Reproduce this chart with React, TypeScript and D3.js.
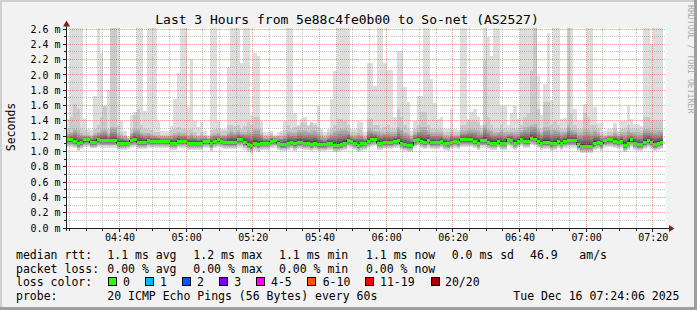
import React from 'react';
import * as d3 from 'd3';

// ---- time domain (UTC used as wall clock) ----
const startTime = Date.UTC(2025, 11, 16, 4, 24, 6);
const endTime = Date.UTC(2025, 11, 16, 7, 24, 6);
const stepMs = 60 * 1000;

// ---- per-minute data (ms) ----
const medianRtt = [
  1.15, 1.15, 1.13, 1.10, 1.12, 1.15, 1.15, 1.12, 1.12, 1.15,
  1.14, 1.14, 1.14, 1.14, 1.14, 1.11, 1.11, 1.11, 1.11, 1.14,
  1.15, 1.12, 1.12, 1.12, 1.14, 1.13, 1.13, 1.13, 1.13, 1.13,
  1.13, 1.11, 1.11, 1.13, 1.13, 1.13, 1.11, 1.11, 1.11, 1.11,
  1.11, 1.13, 1.13, 1.10, 1.13, 1.15, 1.13, 1.12, 1.12, 1.12,
  1.12, 1.15, 1.15, 1.12, 1.09, 1.08, 1.11, 1.09, 1.11, 1.11,
  1.11, 1.13, 1.14, 1.11, 1.09, 1.09, 1.11, 1.12, 1.10, 1.12,
  1.12, 1.11, 1.11, 1.09, 1.11, 1.09, 1.09, 1.09, 1.11, 1.11,
  1.08, 1.08, 1.09, 1.11, 1.14, 1.13, 1.11, 1.08, 1.10, 1.11,
  1.13, 1.15, 1.16, 1.11, 1.11, 1.12, 1.12, 1.12, 1.13, 1.14,
  1.11, 1.09, 1.08, 1.08, 1.14, 1.16, 1.13, 1.12, 1.14, 1.12,
  1.12, 1.12, 1.13, 1.11, 1.10, 1.12, 1.13, 1.12, 1.15, 1.15,
  1.15, 1.15, 1.13, 1.11, 1.14, 1.14, 1.12, 1.11, 1.11, 1.13,
  1.11, 1.11, 1.16, 1.14, 1.11, 1.13, 1.16, 1.13, 1.13, 1.17,
  1.16, 1.13, 1.11, 1.12, 1.12, 1.10, 1.11, 1.13, 1.11, 1.13,
  1.14, 1.14, 1.14, 1.09, 1.07, 1.07, 1.07, 1.07, 1.11, 1.12,
  1.10, 1.14, 1.15, 1.15, 1.13, 1.12, 1.13, 1.08, 1.11, 1.15,
  1.11, 1.09, 1.09, 1.12, 1.14, 1.12, 1.09, 1.11, 1.12,
];

const pingMax = [
  1.42, 2.7, 2.7, 2.7, 2.7, 1.42, 1.30, 1.28, 1.73, 2.7,
  2.28, 1.60, 1.80, 2.7, 2.7, 2.7, 1.40, 1.27, 1.20, 1.47,
  1.51, 2.7, 2.7, 1.53, 2.7, 2.7, 2.7, 1.40, 1.27, 1.27,
  1.27, 1.33, 1.69, 2.03, 2.7, 2.7, 1.58, 2.21, 1.40, 1.32,
  1.38, 1.27, 1.21, 2.7, 2.7, 1.40, 1.30, 1.30, 2.11, 2.7,
  2.7, 2.7, 2.15, 2.7, 2.7, 1.47, 2.28, 2.25, 1.40, 1.25,
  1.25, 1.27, 1.22, 1.25, 1.27, 1.40, 2.7, 2.7, 1.50, 1.35,
  1.42, 1.45, 1.35, 1.38, 1.37, 1.60, 1.30, 1.25, 1.30, 1.68,
  2.05, 2.7, 2.7, 2.7, 2.7, 1.30, 1.30, 1.40, 1.38, 1.25,
  2.15, 2.15, 1.85, 2.7, 2.7, 2.15, 2.06, 2.06, 1.45, 2.31,
  2.31, 1.84, 1.65, 1.27, 1.40, 1.72, 1.72, 2.7, 2.7, 1.95,
  1.63, 1.42, 1.45, 1.30, 1.30, 1.55, 1.30, 1.28, 2.7, 2.7,
  1.42, 1.52, 1.55, 1.45, 1.35, 2.7, 2.49, 2.25, 2.7, 2.7,
  1.60, 1.60, 1.35, 1.50, 1.60, 1.42, 2.7, 2.7, 2.7, 2.7,
  2.7, 1.99, 1.47, 1.88, 2.55, 1.67, 2.7, 2.7, 1.42, 1.44,
  2.7, 2.7, 1.55, 1.40, 1.40, 1.62, 2.7, 2.7, 1.58, 1.37,
  1.37, 1.27, 1.30, 1.30, 1.37, 1.27, 1.40, 1.40, 1.60, 1.42,
  1.36, 1.36, 1.33, 2.7, 2.7, 2.40, 2.7, 2.7, 2.7,
];

const ping19 = [
  1.30, 1.45, 1.62, 1.55, 1.30, 1.28, 1.25, 1.22, 1.30, 1.35,
  1.45, 1.60, 1.30, 2.7, 2.7, 1.35, 1.25, 1.22, 1.18, 1.30,
  1.48, 1.55, 1.35, 1.30, 1.30, 1.28, 1.25, 1.25, 1.22, 1.22,
  1.22, 1.28, 1.30, 1.32, 1.30, 1.30, 1.28, 1.30, 1.25, 1.22,
  1.25, 1.22, 1.20, 1.28, 1.30, 1.30, 1.27, 1.27, 1.35, 1.35,
  1.33, 1.35, 1.30, 1.33, 1.38, 1.35, 1.45, 1.45, 1.30, 1.22,
  1.22, 1.24, 1.20, 1.22, 1.24, 1.28, 1.35, 1.30, 1.32, 1.33,
  1.37, 1.37, 1.33, 1.37, 1.35, 1.32, 1.25, 1.22, 1.25, 1.30,
  1.35, 1.42, 1.42, 1.40, 1.35, 1.25, 1.25, 1.30, 1.28, 1.22,
  1.42, 1.42, 1.35, 1.35, 1.30, 1.32, 1.35, 1.30, 1.30, 1.55,
  1.45, 1.35, 1.30, 1.22, 1.30, 1.35, 1.52, 1.52, 1.35, 1.30,
  1.30, 1.30, 1.30, 1.25, 1.25, 1.30, 1.25, 1.25, 1.35, 1.35,
  1.40, 1.40, 1.40, 1.38, 1.30, 2.20, 1.45, 1.35, 1.30, 1.30,
  1.35, 1.30, 1.28, 1.30, 1.30, 1.30, 1.35, 1.45, 1.50, 2.05,
  2.7, 1.55, 1.30, 1.65, 1.65, 1.35, 1.40, 1.35, 1.30, 1.30,
  2.7, 1.50, 1.35, 1.30, 1.30, 1.50, 1.45, 1.35, 1.35, 1.30,
  1.25, 1.22, 1.25, 1.25, 1.30, 1.25, 1.30, 1.30, 1.35, 1.30,
  1.30, 1.30, 1.28, 1.45, 1.45, 1.40, 1.40, 1.40, 1.40,
];

const coreHi = [
  1.24, 1.26, 1.30, 1.28, 1.24, 1.22, 1.22, 1.20, 1.24, 1.26,
  1.28, 1.30, 1.24, 1.32, 1.32, 1.24, 1.21, 1.20, 1.17, 1.24,
  1.30, 1.30, 1.26, 1.24, 1.24, 1.23, 1.22, 1.21, 1.20, 1.20,
  1.20, 1.22, 1.24, 1.25, 1.24, 1.24, 1.22, 1.24, 1.21, 1.20,
  1.21, 1.20, 1.18, 1.23, 1.24, 1.24, 1.22, 1.22, 1.26, 1.28,
  1.26, 1.28, 1.25, 1.26, 1.28, 1.26, 1.30, 1.30, 1.24, 1.19,
  1.19, 1.21, 1.19, 1.20, 1.20, 1.23, 1.27, 1.25, 1.26, 1.28,
  1.28, 1.28, 1.27, 1.28, 1.28, 1.26, 1.21, 1.19, 1.21, 1.24,
  1.27, 1.30, 1.30, 1.30, 1.28, 1.22, 1.21, 1.24, 1.23, 1.19,
  1.30, 1.30, 1.27, 1.27, 1.25, 1.26, 1.27, 1.25, 1.25, 1.32,
  1.30, 1.26, 1.24, 1.20, 1.25, 1.28, 1.32, 1.32, 1.28, 1.25,
  1.25, 1.25, 1.25, 1.21, 1.21, 1.25, 1.22, 1.22, 1.28, 1.28,
  1.30, 1.30, 1.30, 1.28, 1.25, 1.35, 1.30, 1.28, 1.26, 1.26,
  1.28, 1.25, 1.25, 1.26, 1.25, 1.25, 1.28, 1.32, 1.33, 1.35,
  1.36, 1.30, 1.25, 1.32, 1.32, 1.28, 1.30, 1.28, 1.25, 1.26,
  1.34, 1.30, 1.28, 1.25, 1.25, 1.30, 1.30, 1.27, 1.28, 1.25,
  1.22, 1.20, 1.22, 1.22, 1.25, 1.22, 1.25, 1.25, 1.28, 1.26,
  1.25, 1.25, 1.24, 1.30, 1.30, 1.28, 1.28, 1.28, 1.28,
];

const coreLo = [
  1.09, 1.09, 1.07, 1.04, 1.06, 1.09, 1.09, 1.06, 1.06, 1.09,
  1.08, 1.08, 1.08, 1.08, 1.08, 1.05, 1.05, 1.05, 1.06, 1.08,
  1.09, 1.06, 1.06, 1.06, 1.08, 1.07, 1.07, 1.07, 1.07, 1.07,
  1.07, 1.05, 1.05, 1.07, 1.07, 1.07, 1.05, 1.05, 1.05, 1.05,
  1.05, 1.07, 1.07, 1.04, 1.07, 1.09, 1.07, 1.06, 1.06, 1.06,
  1.06, 1.09, 1.09, 1.06, 1.03, 1.01, 1.05, 1.03, 1.05, 1.05,
  1.05, 1.07, 1.08, 1.05, 1.03, 1.03, 1.05, 1.06, 1.04, 1.06,
  1.06, 1.05, 1.05, 1.03, 1.05, 1.03, 1.03, 1.03, 1.05, 1.05,
  1.02, 1.02, 1.03, 1.05, 1.08, 1.07, 1.05, 1.02, 1.04, 1.05,
  1.07, 1.09, 1.10, 1.05, 1.05, 1.06, 1.06, 1.06, 1.07, 1.08,
  1.05, 1.03, 1.02, 1.02, 1.08, 1.10, 1.07, 1.06, 1.08, 1.06,
  1.06, 1.06, 1.07, 1.05, 1.04, 1.06, 1.07, 1.06, 1.09, 1.09,
  1.09, 1.09, 1.07, 1.05, 1.08, 1.08, 1.06, 1.05, 1.05, 1.07,
  1.05, 1.05, 1.10, 1.08, 1.05, 1.07, 1.10, 1.07, 1.07, 1.11,
  1.10, 1.07, 1.05, 1.06, 1.06, 1.04, 1.05, 1.07, 1.05, 1.07,
  1.08, 1.08, 1.08, 1.03, 1.01, 1.01, 1.01, 1.01, 1.05, 1.06,
  1.04, 1.08, 1.09, 1.09, 1.07, 1.06, 1.07, 1.02, 1.05, 1.09,
  1.05, 1.03, 1.03, 1.06, 1.08, 1.06, 1.03, 1.05, 1.06,
];

const pingMin = [
  1.06, 1.06, 1.04, 1.00, 1.03, 1.06, 1.06, 1.04, 1.04, 1.06,
  1.05, 1.05, 1.05, 1.05, 1.05, 1.02, 1.02, 1.02, 1.03, 1.05,
  1.06, 1.03, 1.03, 1.03, 1.05, 1.04, 1.04, 1.04, 1.04, 1.04,
  1.04, 1.02, 1.02, 1.04, 1.04, 1.04, 1.02, 1.02, 1.02, 1.02,
  1.02, 1.04, 1.04, 1.01, 1.04, 1.06, 1.04, 1.03, 1.03, 1.03,
  1.03, 1.05, 1.05, 1.02, 0.99, 0.97, 1.01, 0.99, 1.02, 1.02,
  1.02, 1.04, 1.05, 1.02, 1.00, 1.00, 1.02, 1.03, 1.01, 1.03,
  1.03, 1.02, 1.02, 1.00, 1.02, 1.00, 1.00, 1.00, 1.02, 1.02,
  0.99, 0.99, 1.00, 1.02, 1.05, 1.04, 1.02, 0.99, 1.01, 1.02,
  1.04, 1.06, 1.07, 1.02, 1.02, 1.03, 1.03, 1.03, 1.04, 1.05,
  1.02, 1.00, 0.99, 0.99, 1.05, 1.07, 1.04, 1.03, 1.05, 1.03,
  1.03, 1.03, 1.04, 1.02, 1.01, 1.03, 1.04, 1.03, 1.06, 1.06,
  1.06, 1.06, 1.04, 1.02, 1.05, 1.05, 1.03, 1.02, 1.02, 1.04,
  1.02, 1.02, 1.07, 1.05, 1.02, 1.04, 1.07, 1.04, 1.04, 1.08,
  1.07, 1.04, 1.02, 1.03, 1.03, 1.01, 1.02, 1.04, 1.02, 1.04,
  1.05, 1.05, 1.05, 1.00, 0.98, 0.98, 0.98, 0.98, 1.02, 1.03,
  1.01, 1.05, 1.06, 1.06, 1.04, 1.03, 1.04, 0.99, 1.02, 1.06,
  1.02, 1.00, 1.00, 1.03, 1.05, 1.03, 1.00, 1.02, 1.03,
];

// ---- axes / labels ----
const yTicks = [0, 0.2, 0.4, 0.6, 0.8, 1.0, 1.2, 1.4, 1.6, 1.8, 2.0, 2.2, 2.4, 2.6];
const yMinorTicks = [0.1, 0.3, 0.5, 0.7, 0.9, 1.1, 1.3, 1.5, 1.7, 1.9, 2.1, 2.3, 2.5];

const titleText = 'Last 3 Hours from 5e88c4fe0b00 to So-net (AS2527)';
const yAxisTitle = 'Seconds';
const watermark = 'RRDTOOL / TOBI OETIKER';

const rttLabel = 'median rtt:';
const rttStats = ['1.1 ms avg', '1.2 ms max', '1.1 ms min', '1.1 ms now', '0.0 ms sd', '46.9', 'am/s'];
const lossLabel = 'packet loss:';
const lossStats = ['0.00 % avg', '0.00 % max', '0.00 % min', '0.00 % now'];
const lossColorLabel = 'loss color:';
const lossLegendLabels = ['0', '1', '2', '3', '4-5', '6-10', '11-19', '20/20'];
const lossLegendColors = ['#26ff00', '#00b8ff', '#0059ff', '#7e00ff', '#ff00ff', '#ff5500', '#ff0000', '#a10000'];
const probeLabel = 'probe:';
const probeText = '20 ICMP Echo Pings (56 Bytes) every 60s';
const dateText = 'Tue Dec 16 07:24:06 2025';

const FONT = "'DejaVu Sans Mono', monospace";

export default function App() {
  const W = 697;
  const H = 310;
  const left = 66.5;
  const right = 666.5;
  const top = 28;
  const bottom = 228;

  const x = d3.scaleUtc().domain([startTime, endTime]).range([left, right]);
  const y = d3.scaleLinear().domain([0, 2.6]).range([228, 29]);

  const n = medianRtt.length;
  const idx = d3.range(n + 1);
  const tAt = (i: number) => startTime + i * stepMs;
  const at = (arr: number[], i: number) => arr[Math.min(i, n - 1)];

  const bandPath = (lo: (i: number) => number, hi: (i: number) => number) =>
    d3
      .area<number>()
      .x((i) => x(tAt(i)))
      .y0((i) => y(lo(i)))
      .y1((i) => y(hi(i)))
      .curve(d3.curveStepAfter)(idx) || '';

  const bands: { d: string; fill: string }[] = [];
  bands.push({ d: bandPath((i) => at(pingMin, i), (i) => at(pingMax, i)), fill: '#dddddd' });
  bands.push({
    d: bandPath((i) => (at(pingMin, i) + at(coreLo, i)) / 2, (i) => at(ping19, i)),
    fill: '#cacaca',
  });
  for (let j = 3; j <= 10; j++) {
    const f = 1 - Math.pow(1 - (j - 3) / 8, 1.5);
    const g = Math.round((190 / 10) * (10 - j) + 50);
    bands.push({
      d: bandPath(
        (i) => at(coreLo, i) + (at(medianRtt, i) - at(coreLo, i)) * f,
        (i) => at(coreHi, i) + (at(medianRtt, i) - at(coreHi, i)) * f
      ),
      fill: `rgb(${g},${g},${g})`,
    });
  }

  const medLine =
    d3
      .line<number>()
      .x((i) => x(tAt(i)))
      .y((i) => y(at(medianRtt, i)))
      .curve(d3.curveStepAfter)(idx) || '';

  const medBand =
    d3
      .area<number>()
      .x((i) => x(tAt(i)))
      .y0((i) => y(at(medianRtt, i)) + 1.5)
      .y1((i) => y(at(medianRtt, i)) - 1.5)
      .curve(d3.curveStepAfter)(idx) || '';

  const majorX = x.ticks(d3.utcMinute.every(20)!);
  const minorX = x.ticks(d3.utcMinute.every(5)!).filter((d) => d.getUTCMinutes() % 20 !== 0);
  const fmt = d3.utcFormat('%H:%M');
  const px = (v: number) => Math.floor(v) + 0.5;

  const gridMinor = 'rgba(143,143,143,0.55)';
  const gridMajor = 'rgba(222,79,79,0.55)';

  const legendX = 16;
  const colX = [107.3, 193.3, 279, 366, 451.7, 530, 579.3];
  const rowY = [259, 272.5, 286, 299.5];
  const boxX = [108.5, 145.5, 182.5, 219.5, 256.5, 307.5, 365.5, 431.5];
  const boxLabelX = [123, 160, 197, 234.3, 271, 322.7, 380, 445];

  return (
    <svg
      width={W}
      height={H}
      style={{ position: 'absolute', left: 0, top: 0, display: 'block' }}
      fontFamily={FONT}
    >
      <rect x={0} y={0} width={W} height={H} fill="#f2f2f2" />
      <rect x={0} y={0} width={W} height={2} fill="#cfcfcf" />
      <rect x={0} y={0} width={2} height={H} fill="#cfcfcf" />
      <rect x={0} y={H - 3} width={W} height={3} fill="#9e9e9e" />
      <rect x={W - 3} y={0} width={3} height={H} fill="#9e9e9e" />

      <rect x={66} y={top} width={600} height={bottom - top} fill="#ffffff" />

      <defs>
        <clipPath id="plotClip">
          <rect x={66} y={top} width={601} height={bottom - top} />
        </clipPath>
      </defs>

      <g clipPath="url(#plotClip)" shapeRendering="crispEdges">
        {bands.map((b, k) => (
          <path key={k} d={b.d} fill={b.fill} />
        ))}
        <path d={medLine} fill="none" stroke="#202020" strokeWidth={1} />
        <path d={medBand} fill="#26ff00" />
      </g>

      <g shapeRendering="crispEdges" strokeDasharray="1,1" strokeWidth={1}>
        {yMinorTicks.map((v) => (
          <line key={'ym' + v} x1={66} x2={666} y1={px(y(v))} y2={px(y(v))} stroke={gridMinor} />
        ))}
        {minorX.map((d) => (
          <line key={'xm' + d.getTime()} x1={px(x(d))} x2={px(x(d))} y1={top} y2={bottom} stroke={gridMinor} />
        ))}
        {yTicks.slice(1).map((v) => (
          <line key={'yM' + v} x1={66} x2={666} y1={px(y(v))} y2={px(y(v))} stroke={gridMajor} />
        ))}
        {majorX.map((d) => (
          <line key={'xM' + d.getTime()} x1={px(x(d))} x2={px(x(d))} y1={top} y2={bottom} stroke={gridMajor} />
        ))}
      </g>

      <g shapeRendering="crispEdges" stroke="#1f1f1f" strokeWidth={1}>
        <line x1={64} x2={669} y1={228.5} y2={228.5} />
        <line x1={66.5} x2={66.5} y1={26} y2={231} />
        {yTicks.map((v) => (
          <line key={'yt' + v} x1={63} x2={66} y1={px(y(v))} y2={px(y(v))} />
        ))}
        {yMinorTicks.map((v) => (
          <line key={'ymt' + v} x1={64} x2={66} y1={px(y(v))} y2={px(y(v))} />
        ))}
        {majorX.map((d) => (
          <line key={'xt' + d.getTime()} x1={px(x(d))} x2={px(x(d))} y1={229} y2={232} />
        ))}
        {minorX.map((d) => (
          <line key={'xmt' + d.getTime()} x1={px(x(d))} x2={px(x(d))} y1={229} y2={231} />
        ))}
      </g>
      <path d="M669,225 L669,232 L674.5,228.5 Z" fill="#801f1f" />
      <path d="M63,26.5 L70,26.5 L66.5,20.5 Z" fill="#801f1f" />

      {yTicks.map((v) => (
        <text key={'yl' + v} x={60.5} y={y(v) + 3.6} fontSize={10} textAnchor="end" fill="#000">
          {v.toFixed(1) + ' m'}
        </text>
      ))}
      {majorX.map((d) => (
        <text key={'xl' + d.getTime()} x={x(d) + 0.5} y={240.5} fontSize={10} textAnchor="middle" fill="#000">
          {fmt(d)}
        </text>
      ))}

      <text x={347} y={23.5} fontSize={13} textAnchor="middle" fill="#000">
        {titleText}
      </text>

      <text transform="translate(15,127) rotate(-90)" fontSize={11.5} textAnchor="middle" fill="#000">
        {yAxisTitle}
      </text>

      <text transform="translate(688,5) rotate(90)" fontSize={8.2} fill="#ababab">
        {watermark}
      </text>

      <g fontSize={11.5} fill="#000">
        <text x={legendX} y={rowY[0]}>{rttLabel}</text>
        {rttStats.map((s, k) => (
          <text key={'r' + k} x={colX[k]} y={rowY[0]}>{s}</text>
        ))}
        <text x={legendX} y={rowY[1]}>{lossLabel}</text>
        {lossStats.map((s, k) => (
          <text key={'l' + k} x={colX[k]} y={rowY[1]}>{s}</text>
        ))}
        <text x={legendX} y={rowY[2]}>{lossColorLabel}</text>
        {lossLegendLabels.map((s, k) => (
          <g key={'c' + k}>
            <rect
              x={boxX[k]}
              y={277.5}
              width={8}
              height={8}
              fill={lossLegendColors[k]}
              stroke="#000"
              strokeWidth={1}
              shapeRendering="crispEdges"
            />
            <text x={boxLabelX[k]} y={rowY[2]}>{s}</text>
          </g>
        ))}
        <text x={legendX} y={rowY[3]}>{probeLabel}</text>
        <text x={colX[0]} y={rowY[3]}>{probeText}</text>
        <text x={513.3} y={rowY[3]}>{dateText}</text>
      </g>
    </svg>
  );
}
